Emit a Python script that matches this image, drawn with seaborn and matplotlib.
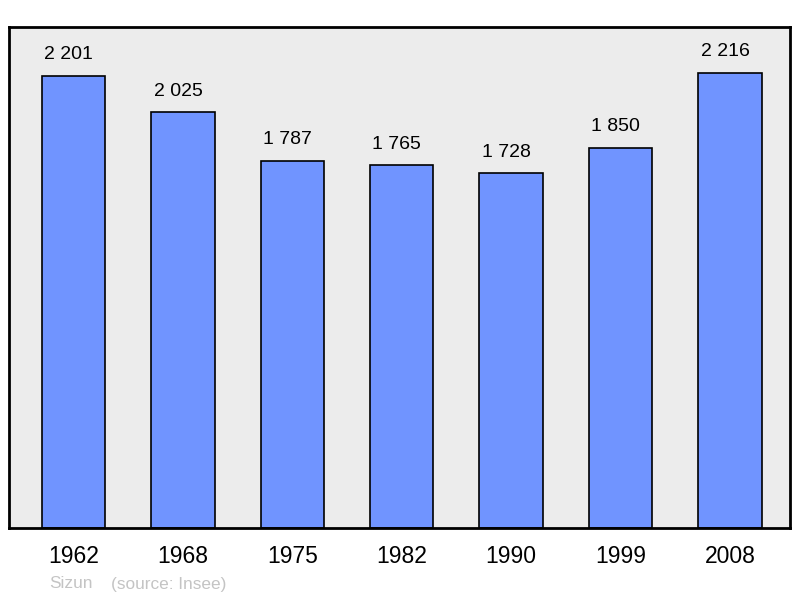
import seaborn as sns
import matplotlib.pyplot as plt
import pandas as pd

years = ["1962", "1968", "1975", "1982", "1990", "1999", "2008"]
population = [2201, 2025, 1787, 1765, 1728, 1850, 2216]
labels = ["2 201", "2 025", "1 787", "1 765", "1 728", "1 850", "2 216"]

sns.set_style("white")
plt.rcParams['font.family'] = ['Liberation Sans', 'DejaVu Sans']
plt.rcParams['text.color'] = "black"
plt.rcParams['xtick.color'] = "black"

dat = pd.DataFrame({"year": years, "population": population})

fig = plt.figure(figsize=(8, 5.98), dpi=100)
ax = fig.add_axes([9 / 800, 70 / 598, 781 / 800, 501 / 598])
ax.set_facecolor("#ececec")

sns.barplot(x="year", y="population", data=dat, color="#7094ff", saturation=1,
            width=0.58, edgecolor="black", linewidth=1.2, ax=ax)

# labels above the bars (the original sits them a touch left of centre)
for i, (v, t) in enumerate(zip(population, labels)):
    ax.annotate(t, (i, v), xytext=(-3.5, 9), textcoords="offset points",
                ha="center", va="bottom", fontsize=14, color="black")

ax.set_xlim(-0.59, 6.55)
ax.set_ylim(0, 2439)
ax.set_yticks([])
ax.set_xlabel("")
ax.set_ylabel("")
ax.tick_params(axis="x", length=0, labelsize=16.5, pad=12, labelcolor="black")
for s in ax.spines.values():
    s.set_color("black")
    s.set_linewidth(2)

fig.text(49 / 800, 1 - 584 / 598, "Sizun", color="#c4c4c4", fontsize=12.4, va="center")
fig.text(111 / 800, 1 - 584 / 598, "(source: Insee)", color="#c4c4c4", fontsize=12.4, va="center")

fig.savefig("out.png", dpi=100)
